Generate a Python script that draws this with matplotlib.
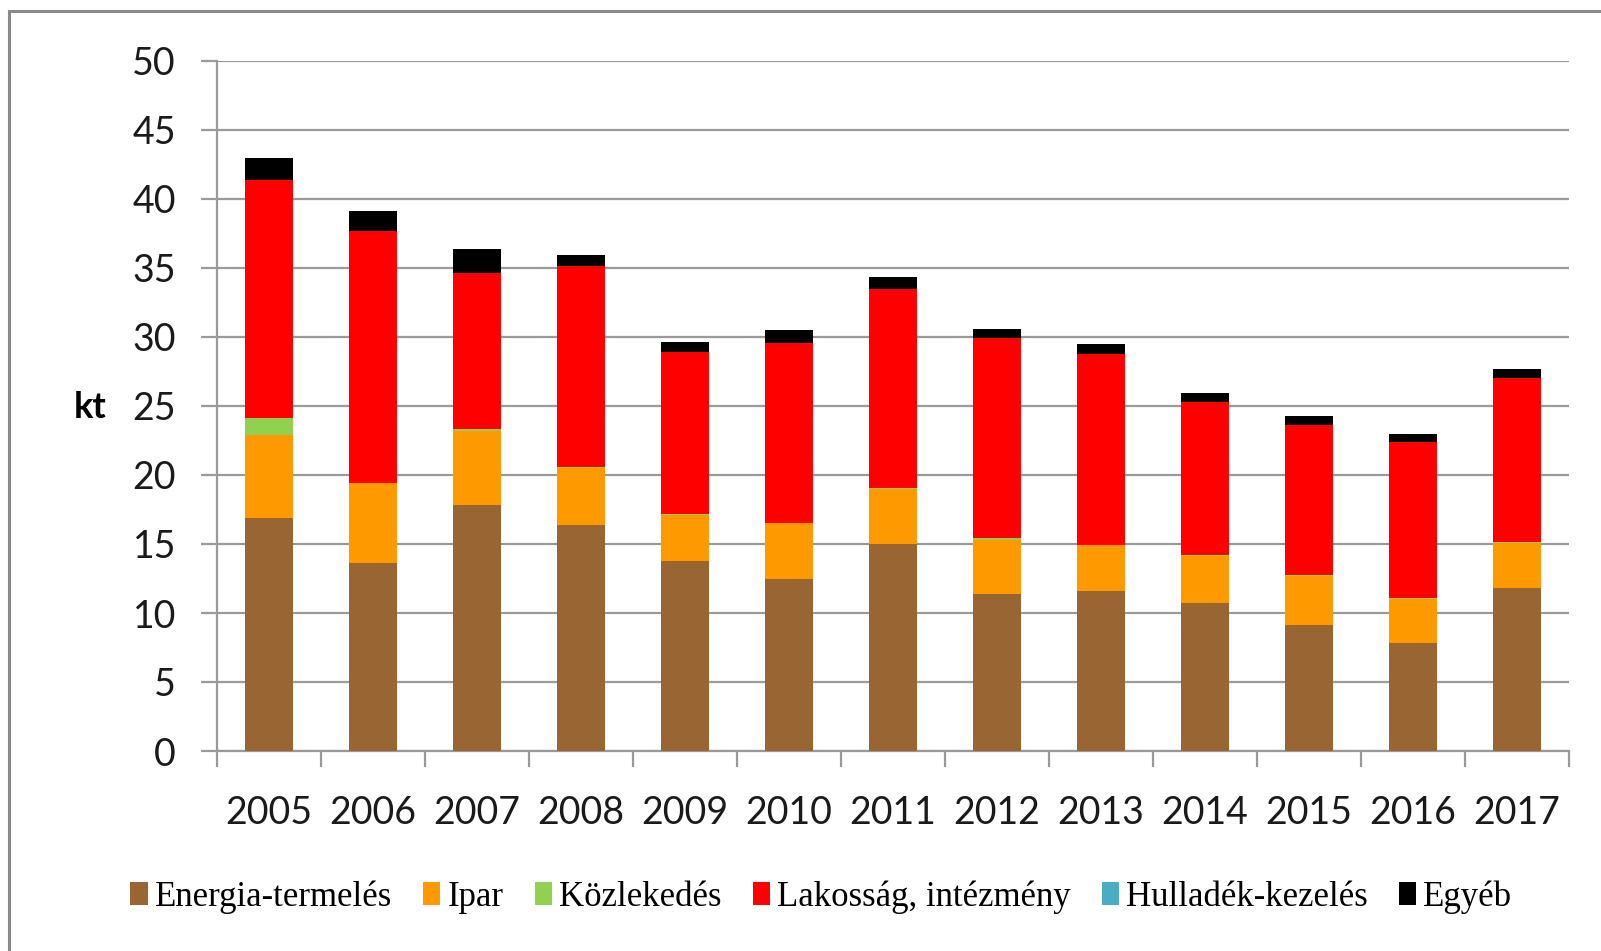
import numpy as np
import matplotlib
matplotlib.use("Agg")
import matplotlib.pyplot as plt
from matplotlib.patches import Rectangle

years = ["2005", "2006", "2007", "2008", "2009", "2010", "2011",
         "2012", "2013", "2014", "2015", "2016", "2017"]
energia = [16.9, 13.6, 17.8, 16.4, 13.8, 12.5, 15.0, 11.4, 11.6, 10.7, 9.1, 7.8, 11.8]
ipar = [6.0, 5.8, 5.4, 4.1, 3.3, 4.0, 4.0, 3.9, 3.3, 3.4, 3.6, 3.2, 3.3]
kozlekedes = [1.2, 0.05, 0.15, 0.05, 0.1, 0.05, 0.05, 0.1, 0.05, 0.12, 0.05, 0.1, 0.05]
lakossag = [17.3, 18.2, 11.3, 14.6, 11.7, 13.0, 14.4, 14.5, 13.8, 11.1, 10.9, 11.3, 11.9]
hulladek = [0, 0, 0, 0, 0, 0, 0, 0, 0, 0, 0, 0, 0]
egyeb = [1.6, 1.5, 1.7, 0.8, 0.75, 0.95, 0.9, 0.65, 0.75, 0.65, 0.6, 0.6, 0.6]

names = ["Energia-termelés", "Ipar", "Közlekedés", "Lakosság, intézmény",
         "Hulladék-kezelés", "Egyéb"]
colors = ["#996633", "#FF9900", "#92D050", "#FF0000", "#4BACC6", "#000000"]
series = [energia, ipar, kozlekedes, lakossag, hulladek, egyeb]

plt.rcParams['font.family'] = ['Lato', 'DejaVu Sans']

fig = plt.figure(figsize=(16.01, 9.51), dpi=100)
ax = fig.add_axes([217 / 1601, 1 - 751 / 951, (1569 - 217) / 1601, (751 - 61) / 951])

x = np.arange(len(years))
bottom = np.zeros(len(years))
handles = []
for vals, col, name in zip(series, colors, names):
    b = ax.bar(x, vals, 0.46, bottom=bottom, color=col, label=name, zorder=3,
               linewidth=0)
    handles.append(b)
    bottom += np.array(vals)

grey = "#9a9a9a"
ax.set_ylim(0, 50)
ax.set_xlim(-0.5, len(years) - 0.5)
ax.set_yticks(np.arange(0, 51, 5))
ax.yaxis.grid(True, color=grey, linewidth=1.6, zorder=0)
ax.set_axisbelow(True)
for s in ["top", "right"]:
    ax.spines[s].set_visible(False)
for s in ["left", "bottom"]:
    ax.spines[s].set_color(grey)
    ax.spines[s].set_linewidth(1.6)

ax.tick_params(axis="y", direction="out", length=11.5, width=1.6, color=grey,
               labelsize=27, pad=18, labelcolor="#1a1a1a")
ax.set_xticks(x)
ax.set_xticklabels(years)
ax.tick_params(axis="x", which="major", length=0, labelsize=27, pad=32,
               labelcolor="#1a1a1a")
ax.set_xticks(np.arange(-0.5, len(years), 1), minor=True)
ax.tick_params(axis="x", which="minor", direction="out", length=11.5, width=1.6,
               color=grey)

fig.text(90 / 1601, 1 - 407 / 951, "kt", fontsize=26, fontweight="bold",
         ha="center", va="center")

fig.legend(handles=handles, labels=names, loc="center", ncol=6,
           bbox_to_anchor=(0.513, 1 - 897 / 951), frameon=False,
           prop={"family": "Liberation Serif", "size": 25},
           handlelength=0.5, handleheight=0.6, handletextpad=0.2,
           columnspacing=0.9)

fig.patches.append(Rectangle((9 / 1601, -0.1), 1.2, 1 - 11 / 951 + 0.1,
                             transform=fig.transFigure, fill=False,
                             edgecolor="#8a8a8a", linewidth=2.2))

fig.savefig("out.png", dpi=100)
